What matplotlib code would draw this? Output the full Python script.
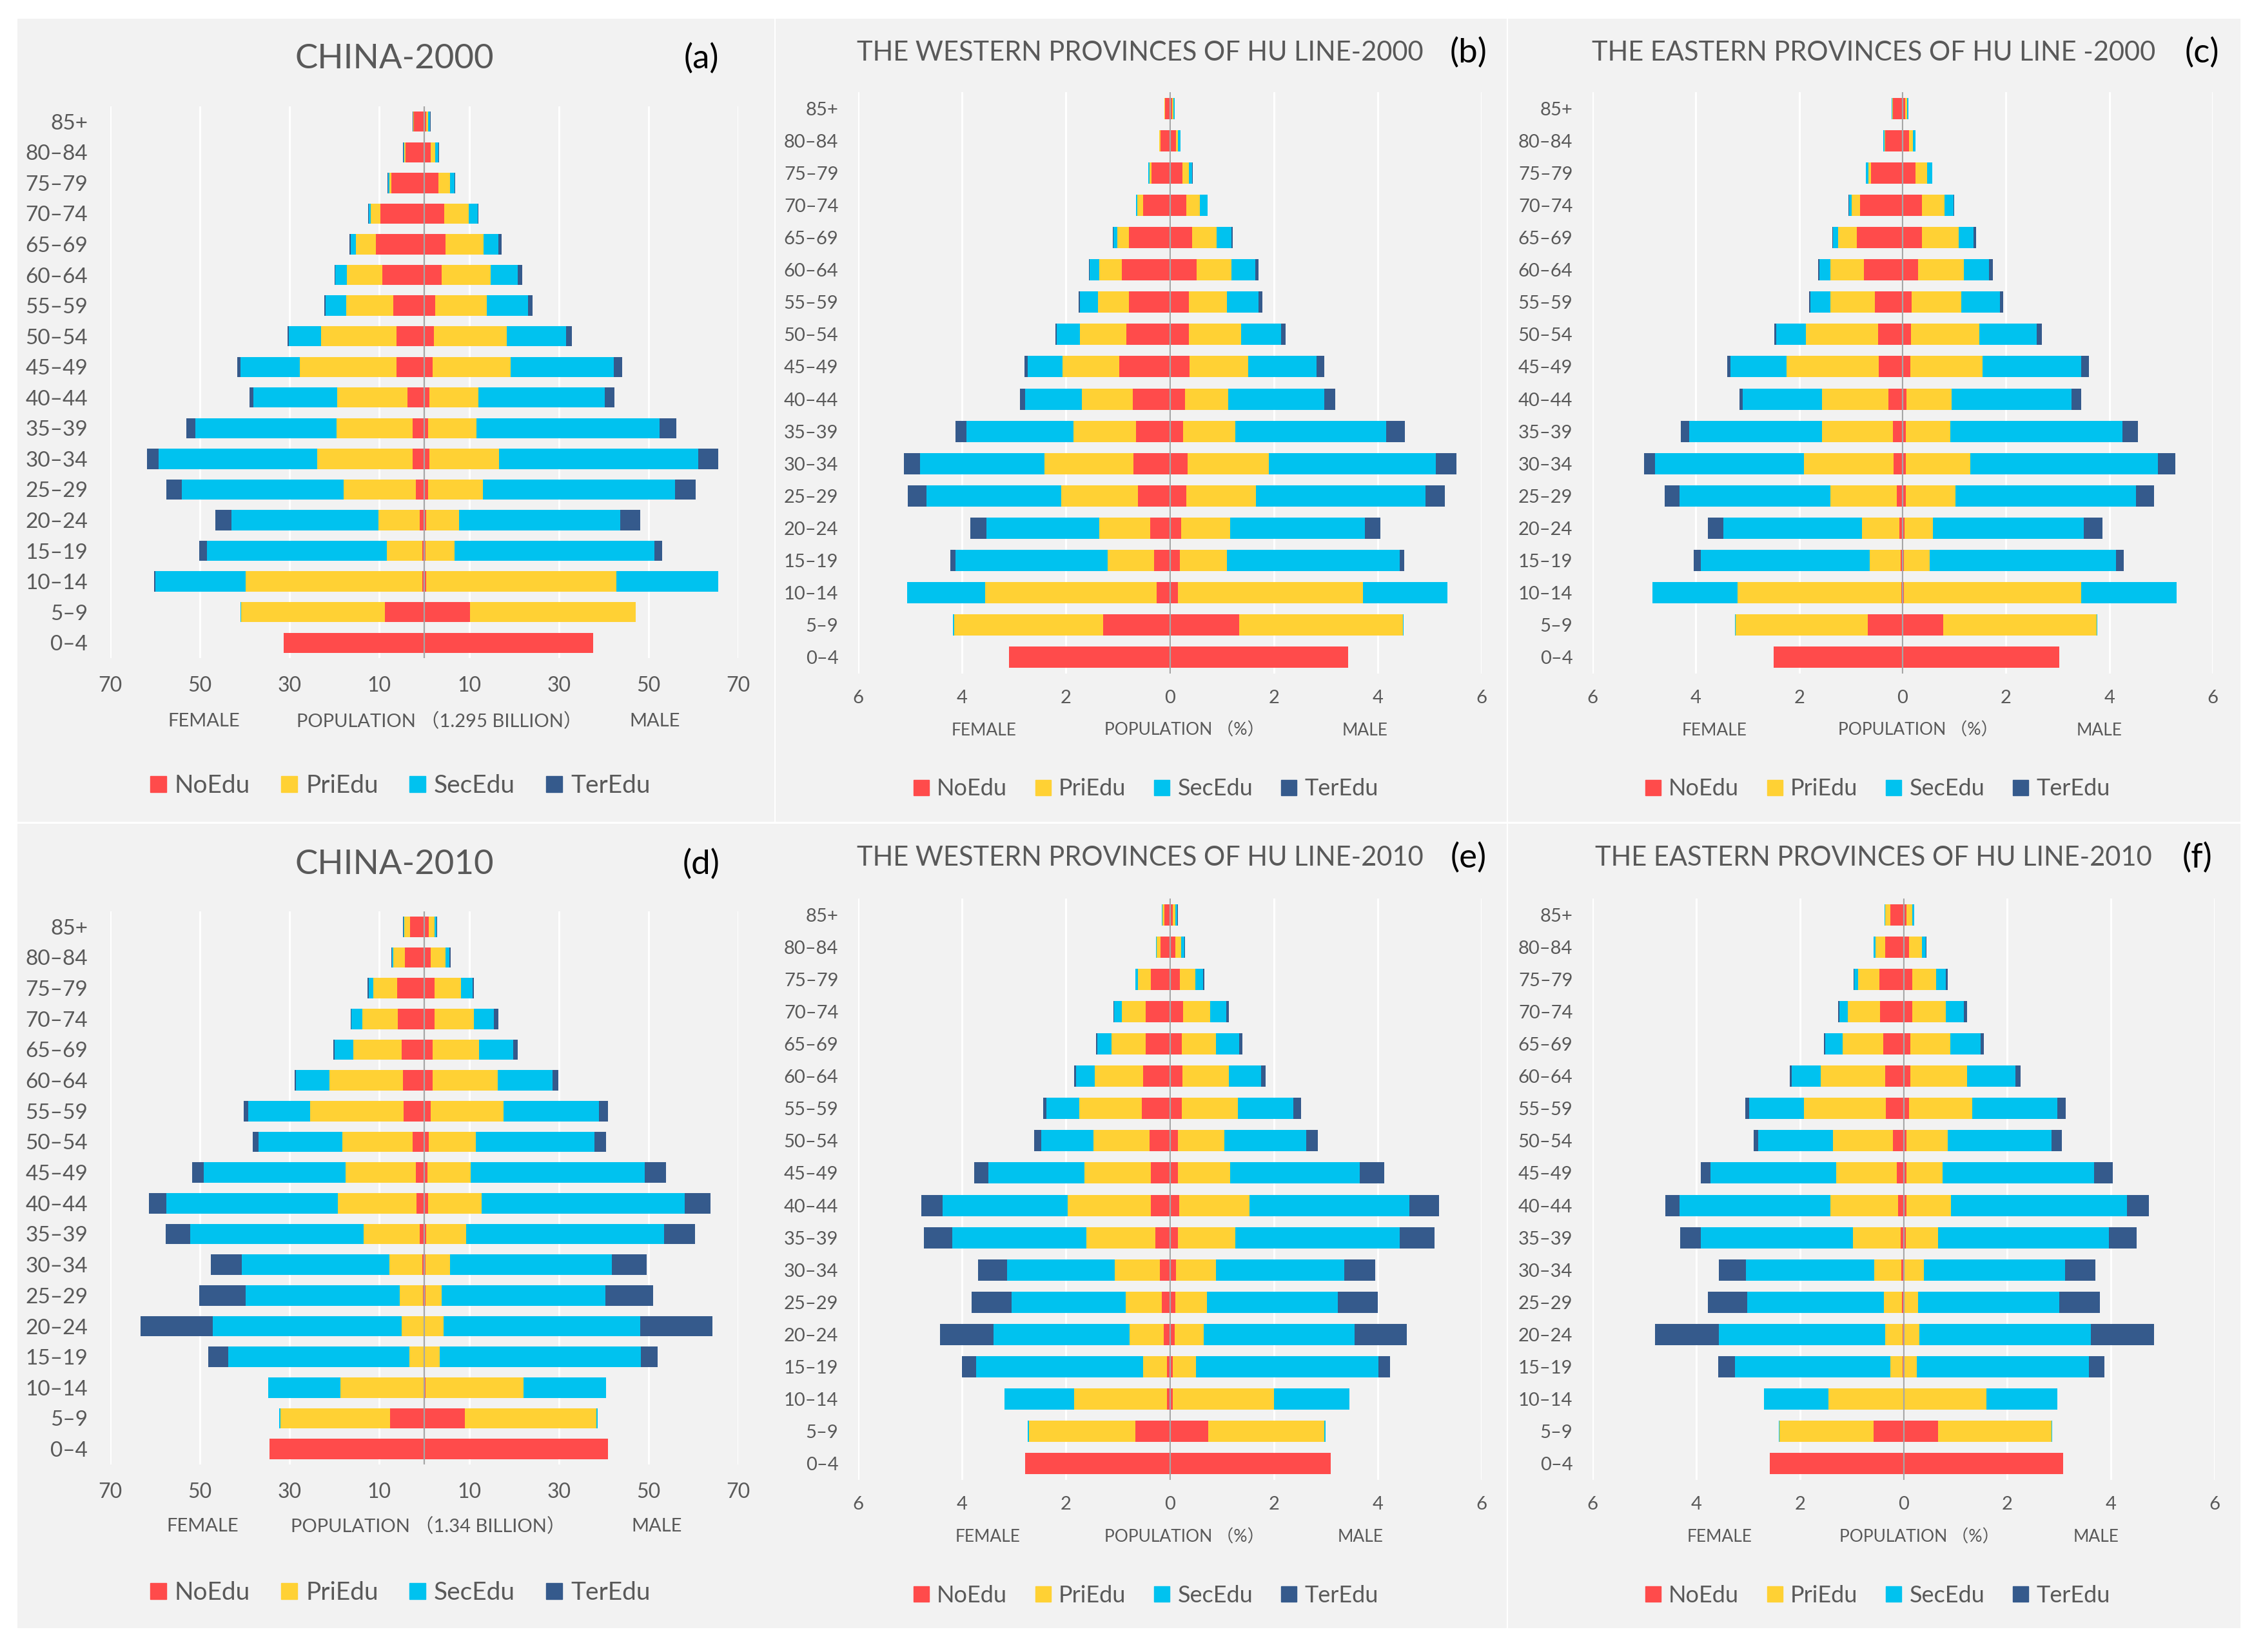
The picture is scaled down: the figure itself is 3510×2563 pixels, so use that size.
import numpy as np
import matplotlib.pyplot as plt
from matplotlib.patches import Rectangle
from matplotlib.lines import Line2D

plt.rcParams['font.family'] = ['Lato', 'Noto Sans CJK SC', 'DejaVu Sans']

ages = ['85+', '80–84', '75–79', '70–74', '65–69', '60–64', '55–59', '50–54', '45–49',
        '40–44', '35–39', '30–34', '25–29', '20–24', '15–19', '10–14', '5–9', '0–4']
edu = ['NoEdu', 'PriEdu', 'SecEdu', 'TerEdu']
colors = ['#FF4B4B', '#FFD134', '#00C2EF', '#355A8C']

# rows: NoEdu, PriEdu, SecEdu, TerEdu ; columns: 85+ ... 0-4
china2000_f = [
    [2.3, 4.1, 7.4, 9.8, 10.8, 9.4, 6.9, 6.2, 6.2, 3.7, 2.6, 2.6, 1.9, 1.0, 0.4, 0.4, 8.8, 31.4],
    [0.1, 0.3, 0.4, 2.2, 4.5, 7.9, 10.5, 16.8, 21.5, 15.7, 16.9, 21.3, 16.0, 9.2, 7.9, 39.4, 32.0, 0],
    [0.1, 0.2, 0.3, 0.4, 1.1, 2.5, 4.6, 7.2, 13.2, 18.7, 31.5, 35.3, 36.1, 32.8, 40.2, 20.2, 0.1, 0],
    [0.1, 0.1, 0.1, 0.1, 0.3, 0.2, 0.3, 0.3, 0.8, 0.8, 2.0, 2.6, 3.5, 3.6, 1.7, 0.2, 0, 0]]
china2000_m = [
    [0.4, 1.4, 3.2, 4.4, 4.7, 3.9, 2.4, 2.1, 1.9, 1.1, 0.9, 1.2, 0.9, 0.5, 0.3, 0.4, 10.2, 37.7],
    [0.5, 1.1, 2.6, 5.5, 8.5, 10.9, 11.6, 16.3, 17.4, 11.0, 10.8, 15.5, 12.2, 7.2, 6.4, 42.5, 36.9, 0],
    [0.4, 0.7, 1.0, 2.0, 3.4, 6.1, 9.1, 13.2, 23.0, 28.2, 40.8, 44.4, 42.8, 36.0, 44.6, 22.7, 0.1, 0],
    [0.1, 0.1, 0.1, 0.2, 0.7, 1.0, 1.0, 1.3, 1.8, 2.1, 3.7, 4.4, 4.6, 4.5, 1.8, 0, 0, 0]]

west2000_f = [
    [0.09, 0.18, 0.35, 0.52, 0.79, 0.92, 0.79, 0.84, 0.97, 0.71, 0.65, 0.70, 0.61, 0.38, 0.30, 0.26, 1.28, 3.10],
    [0.01, 0.02, 0.04, 0.11, 0.22, 0.44, 0.59, 0.89, 1.09, 0.98, 1.20, 1.71, 1.48, 0.98, 0.90, 3.29, 2.87, 0],
    [0.01, 0.01, 0.03, 0.02, 0.08, 0.19, 0.35, 0.45, 0.68, 1.09, 2.06, 2.40, 2.59, 2.17, 2.92, 1.51, 0.02, 0],
    [0, 0, 0, 0, 0.01, 0.01, 0.02, 0.02, 0.06, 0.10, 0.21, 0.31, 0.36, 0.31, 0.11, 0, 0, 0]]
west2000_m = [
    [0.04, 0.12, 0.24, 0.32, 0.43, 0.51, 0.37, 0.37, 0.38, 0.29, 0.26, 0.34, 0.32, 0.22, 0.19, 0.16, 1.34, 3.43],
    [0.03, 0.04, 0.13, 0.26, 0.47, 0.67, 0.73, 1.00, 1.13, 0.83, 1.00, 1.57, 1.34, 0.94, 0.91, 3.56, 3.15, 0],
    [0.02, 0.04, 0.06, 0.14, 0.28, 0.47, 0.61, 0.77, 1.31, 1.85, 2.90, 3.21, 3.26, 2.60, 3.33, 1.62, 0.01, 0],
    [0, 0, 0.01, 0.01, 0.03, 0.06, 0.07, 0.09, 0.15, 0.21, 0.36, 0.39, 0.37, 0.29, 0.08, 0, 0, 0]]

east2000_f = [
    [0.19, 0.34, 0.61, 0.82, 0.88, 0.75, 0.54, 0.48, 0.46, 0.27, 0.19, 0.17, 0.11, 0.06, 0.04, 0.03, 0.67, 2.49],
    [0.01, 0.01, 0.05, 0.17, 0.37, 0.65, 0.86, 1.39, 1.78, 1.29, 1.37, 1.74, 1.29, 0.73, 0.60, 3.16, 2.56, 0],
    [0.01, 0.02, 0.05, 0.05, 0.10, 0.21, 0.39, 0.57, 1.09, 1.53, 2.57, 2.88, 2.92, 2.68, 3.27, 1.65, 0.01, 0],
    [0, 0, 0, 0.01, 0.01, 0.02, 0.02, 0.04, 0.06, 0.07, 0.16, 0.21, 0.28, 0.30, 0.13, 0, 0, 0]]
east2000_m = [
    [0.05, 0.12, 0.25, 0.37, 0.38, 0.30, 0.18, 0.16, 0.15, 0.07, 0.06, 0.06, 0.06, 0.04, 0.03, 0.03, 0.78, 3.03],
    [0.04, 0.08, 0.23, 0.44, 0.70, 0.89, 0.95, 1.33, 1.40, 0.88, 0.86, 1.25, 0.96, 0.55, 0.49, 3.43, 2.98, 0],
    [0.02, 0.05, 0.09, 0.17, 0.29, 0.48, 0.75, 1.10, 1.90, 2.32, 3.33, 3.63, 3.49, 2.92, 3.61, 1.84, 0.01, 0],
    [0, 0, 0.01, 0.02, 0.05, 0.08, 0.07, 0.10, 0.15, 0.18, 0.30, 0.34, 0.35, 0.36, 0.15, 0, 0, 0]]

china2010_f = [
    [3.1, 4.3, 6.1, 5.9, 5.1, 4.7, 4.6, 2.6, 1.9, 1.7, 1.0, 0.4, 0.3, 0.2, 0.1, 0.1, 7.6, 34.5],
    [1.3, 2.6, 5.3, 7.9, 10.7, 16.4, 20.8, 15.6, 15.7, 17.5, 12.5, 7.4, 5.1, 4.8, 3.2, 18.6, 24.5, 0],
    [0.2, 0.3, 1.0, 2.4, 4.2, 7.5, 13.8, 18.8, 31.6, 38.3, 38.7, 32.9, 34.4, 42.1, 40.4, 16.1, 0.3, 0],
    [0.1, 0.1, 0.2, 0.2, 0.3, 0.3, 1.1, 1.3, 2.6, 3.9, 5.4, 6.9, 10.3, 16.2, 4.4, 0, 0, 0]]
china2010_m = [
    [1.0, 1.5, 2.3, 2.3, 1.9, 1.9, 1.5, 1.0, 0.7, 0.9, 0.5, 0.3, 0.3, 0.2, 0.1, 0.3, 9.1, 41.0],
    [1.3, 3.2, 5.9, 8.7, 10.3, 14.5, 16.2, 10.5, 9.7, 11.9, 8.9, 5.4, 3.6, 4.1, 3.4, 21.9, 29.3, 0],
    [0.5, 0.9, 2.6, 4.5, 7.6, 12.2, 21.3, 26.5, 38.8, 45.3, 44.0, 36.1, 36.5, 43.9, 44.8, 18.3, 0.2, 0],
    [0.1, 0.3, 0.3, 1.0, 1.0, 1.3, 2.0, 2.5, 4.7, 5.7, 7.0, 7.8, 10.6, 16.1, 3.7, 0, 0, 0]]

west2010_f = [
    [0.10, 0.18, 0.36, 0.46, 0.46, 0.51, 0.54, 0.39, 0.36, 0.36, 0.28, 0.19, 0.16, 0.12, 0.06, 0.05, 0.66, 2.79],
    [0.04, 0.07, 0.25, 0.46, 0.66, 0.93, 1.20, 1.08, 1.29, 1.61, 1.33, 0.87, 0.69, 0.65, 0.46, 1.79, 2.05, 0],
    [0.02, 0.02, 0.05, 0.15, 0.28, 0.37, 0.64, 1.01, 1.84, 2.40, 2.58, 2.07, 2.20, 2.62, 3.21, 1.34, 0.03, 0],
    [0, 0, 0.01, 0.02, 0.02, 0.03, 0.06, 0.13, 0.28, 0.42, 0.54, 0.56, 0.77, 1.03, 0.27, 0, 0, 0]]
west2010_m = [
    [0.05, 0.10, 0.19, 0.25, 0.23, 0.24, 0.23, 0.16, 0.16, 0.18, 0.16, 0.12, 0.10, 0.09, 0.05, 0.05, 0.74, 3.09],
    [0.05, 0.12, 0.30, 0.53, 0.66, 0.90, 1.08, 0.89, 1.00, 1.35, 1.10, 0.77, 0.61, 0.56, 0.45, 1.96, 2.23, 0],
    [0.04, 0.06, 0.15, 0.31, 0.44, 0.61, 1.07, 1.57, 2.50, 3.08, 3.17, 2.47, 2.52, 2.91, 3.52, 1.44, 0.03, 0],
    [0.01, 0.01, 0.02, 0.05, 0.06, 0.09, 0.15, 0.23, 0.46, 0.57, 0.66, 0.59, 0.77, 1.00, 0.22, 0, 0, 0]]

east2010_f = [
    [0.25, 0.35, 0.47, 0.46, 0.39, 0.36, 0.34, 0.20, 0.13, 0.10, 0.06, 0.04, 0.03, 0.02, 0.02, 0.01, 0.58, 2.58],
    [0.10, 0.19, 0.41, 0.61, 0.79, 1.24, 1.58, 1.16, 1.17, 1.31, 0.92, 0.53, 0.35, 0.34, 0.23, 1.44, 1.82, 0],
    [0.02, 0.04, 0.07, 0.17, 0.33, 0.56, 1.06, 1.44, 2.42, 2.91, 2.93, 2.47, 2.63, 3.20, 3.00, 1.24, 0.01, 0],
    [0, 0, 0.01, 0.02, 0.03, 0.03, 0.07, 0.09, 0.19, 0.27, 0.40, 0.52, 0.76, 1.23, 0.33, 0, 0, 0]]
east2010_m = [
    [0.06, 0.11, 0.17, 0.17, 0.13, 0.13, 0.11, 0.06, 0.05, 0.05, 0.04, 0.02, 0.01, 0.02, 0.01, 0.01, 0.67, 3.08],
    [0.11, 0.24, 0.46, 0.65, 0.77, 1.09, 1.21, 0.79, 0.70, 0.86, 0.63, 0.37, 0.27, 0.28, 0.24, 1.59, 2.19, 0],
    [0.04, 0.08, 0.19, 0.34, 0.59, 0.94, 1.65, 2.01, 2.93, 3.40, 3.29, 2.72, 2.72, 3.31, 3.33, 1.37, 0.01, 0],
    [0, 0.01, 0.03, 0.06, 0.06, 0.10, 0.16, 0.19, 0.36, 0.42, 0.54, 0.59, 0.79, 1.22, 0.29, 0, 0, 0]]

W, H = 3510, 2563
fig = plt.figure(figsize=(W / 100, H / 100), dpi=100)
fig.patch.set_facecolor('white')

def fx(px):
    return px / W

def fy(py):
    return 1 - py / H

# grey panel backgrounds (pixel boxes x0, y0, x1, y1)
for x0, y0, x1, y1 in [(27, 29, 1201, 1275), (1203, 29, 2337, 1275), (2339, 29, 3475, 1275),
                       (27, 1278, 2337, 2526), (2339, 1278, 3475, 2526)]:
    fig.patches.append(Rectangle((fx(x0), fy(y1)), fx(x1) - fx(x0), fy(y0) - fy(y1),
                                 transform=fig.transFigure, facecolor='#F2F2F2',
                                 edgecolor='none', zorder=-10))

txt = '#595959'
panels = [
    # title, tag, female, male, lim, pop label, box(l,t,r,b), title y, title x, tag x, label y, label xs, legend y, legend x, title size
    ('CHINA-2000', '(a)', china2000_f, china2000_m, 70, 'POPULATION （1.295 BILLION）',
     (171, 165, 1145, 1021), 91, 612, 1088, 1119, (316, 682, 1016), 1219, 620, 38),
    ('THE WESTERN PROVINCES OF HU LINE-2000', '(b)', west2000_f, west2000_m, 6, 'POPULATION （%）',
     (1331, 143, 2298, 1045), 82, 1768, 2278, 1133, (1526, 1837, 2117), 1224, 1777, 30),
    ('THE EASTERN PROVINCES OF HU LINE -2000', '(c)', east2000_f, east2000_m, 6, 'POPULATION （%）',
     (2470, 143, 3432, 1045), 82, 2906, 3415, 1133, (2659, 2975, 3256), 1224, 2912, 30),
    ('CHINA-2010', '(d)', china2010_f, china2010_m, 70, 'POPULATION （1.34 BILLION）',
     (171, 1414, 1145, 2272), 1341, 612, 1088, 2368, (314, 664, 1019), 2471, 620, 38),
    ('THE WESTERN PROVINCES OF HU LINE-2010', '(e)', west2010_f, west2010_m, 6, 'POPULATION （%）',
     (1331, 1394, 2298, 2296), 1331, 1768, 2278, 2385, (1532, 1837, 2110), 2475, 1777, 30),
    ('THE EASTERN PROVINCES OF HU LINE-2010', '(f)', east2010_f, east2010_m, 6, 'POPULATION （%）',
     (2470, 1394, 3435, 2296), 1331, 2906, 3408, 2385, (2667, 2977, 3251), 2475, 2912, 30),
]

y = np.arange(len(ages))[::-1]

for (title, tag, fem, mal, lim, poplab, box, ty, tx, tagx, ly, lxs, legy, legx, tsize) in panels:
    l, t, r, b = box
    ax = fig.add_axes([fx(l), fy(b), fx(r) - fx(l), fy(t) - fy(b)])
    ax.set_facecolor('none')

    left_f = np.zeros(len(ages))
    left_m = np.zeros(len(ages))
    for k in range(4):
        vf = np.array(fem[k])
        vm = np.array(mal[k])
        ax.barh(y, -vf, left=-left_f, height=0.66, color=colors[k], zorder=2)
        ax.barh(y, vm, left=left_m, height=0.66, color=colors[k], zorder=2)
        left_f += vf
        left_m += vm

    ax.axvline(0, color='#A6A6A6', lw=1.6, zorder=4)
    ax.set_xlim(-lim, lim)
    ax.set_ylim(-0.5, len(ages) - 0.5)
    if lim == 70:
        ticks = np.arange(-70, 71, 20)
    else:
        ticks = np.arange(-6, 7, 2)
    ax.set_xticks(ticks)
    ax.set_xticklabels([str(abs(int(v))) for v in ticks])
    ax.set_yticks(y)
    ax.set_yticklabels(ages)
    ax.xaxis.grid(True, color='white', lw=2.2, zorder=1)
    ax.set_axisbelow(True)
    for s in ax.spines.values():
        s.set_visible(False)
    big = lim == 70
    ax.tick_params(axis='x', length=0, labelsize=23 if big else 21, labelcolor=txt, pad=20 if big else 18)
    ax.tick_params(axis='y', length=0, labelsize=24 if big else 21, labelcolor=txt, pad=25 if big else 22)

    fig.text(fx(tx), fy(ty), title, ha='center', va='center', fontsize=tsize, color=txt)
    fig.text(fx(tagx), fy(ty), tag, ha='center', va='center', fontsize=38, color='black')

    lsize = 21 if big else 19
    fig.text(fx(lxs[0]), fy(ly), 'FEMALE', ha='center', va='center', fontsize=lsize, color=txt)
    fig.text(fx(lxs[1]), fy(ly), poplab, ha='center', va='center', fontsize=lsize, color=txt)
    fig.text(fx(lxs[2]), fy(ly), 'MALE', ha='center', va='center', fontsize=lsize, color=txt)

    handles = [Line2D([], [], marker='s', ls='none', markersize=18 if big else 17, color=c)
               for c in colors]
    fig.legend(handles, edu, loc='center', bbox_to_anchor=(fx(legx), fy(legy)), ncol=4,
               frameon=False, fontsize=28 if big else 26, labelcolor=txt, handlelength=0.7,
               handletextpad=0.32, columnspacing=1.2)

fig.savefig('out.png', dpi=100, facecolor='white')
